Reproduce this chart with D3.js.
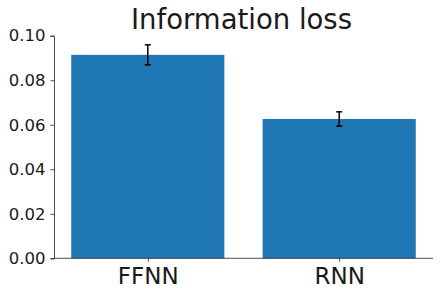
<!DOCTYPE html>
<html><head><meta charset="utf-8">
<script src="https://cdn.jsdelivr.net/npm/d3@7"></script>
<style>body{margin:0;background:#fff}svg{display:block}</style>
</head><body>
<script>
const categories = ["FFNN", "RNN"];
const values = [0.0914, 0.0626];
const errors = [0.0045, 0.0032];
const yTicks = [0, 0.02, 0.04, 0.06, 0.08, 0.10];
const title = "Information loss";

const W = 440, H = 296;
const svg = d3.select("body").append("svg").attr("width", W).attr("height", H);
const font = "DejaVu Sans, sans-serif";

const x = d3.scaleLinear().domain([-0.49, 1.49]).range([54, 433]);
const y = d3.scaleLinear().domain([0, 0.1]).range([258.3, 35.7]);
const bw = 0.8;

svg.selectAll("rect.bar").data(values).enter().append("rect")
  .attr("x", (d, i) => x(i - bw / 2))
  .attr("width", (d, i) => x(i + bw / 2) - x(i - bw / 2))
  .attr("y", d => y(d))
  .attr("height", d => y(0) - y(d))
  .attr("fill", "#1f77b4");

// error bars
const eg = svg.append("g").attr("stroke", "#000").attr("stroke-width", 1.5);
values.forEach((v, i) => {
  const cx = x(i);
  eg.append("line").attr("x1", cx).attr("x2", cx).attr("y1", y(v - errors[i])).attr("y2", y(v + errors[i]));
  eg.append("line").attr("x1", cx - 3).attr("x2", cx + 3).attr("y1", y(v - errors[i])).attr("y2", y(v - errors[i]));
  eg.append("line").attr("x1", cx - 3).attr("x2", cx + 3).attr("y1", y(v + errors[i])).attr("y2", y(v + errors[i]));
});

// y axis
const yAxis = d3.axisLeft(y).tickValues(yTicks).tickFormat(d3.format(".2f")).tickSize(3.5).tickPadding(5);
const gy = svg.append("g").attr("transform", "translate(54,0)").call(yAxis);
gy.select(".domain").attr("stroke", "#222").attr("stroke-width", 0.8);
gy.selectAll(".tick line").attr("stroke", "#222").attr("stroke-width", 0.8);
gy.selectAll(".tick text").attr("font-family", font).attr("font-size", 16.5).attr("fill", "#1a1a1a");

// x axis
const xAxis = d3.axisBottom(x).tickValues([0, 1]).tickFormat(i => categories[i]).tickSize(3.5).tickPadding(5.5);
const gx = svg.append("g").attr("transform", "translate(0,258.3)").call(xAxis);
gx.select(".domain").attr("stroke", "#222").attr("stroke-width", 0.8).attr("d", "M54,0H433");
gx.selectAll(".tick line").attr("stroke", "#222").attr("stroke-width", 0.8);
gx.selectAll(".tick text").attr("font-family", font).attr("font-size", 23).attr("fill", "#1a1a1a");

svg.append("text").attr("x", 241.5).attr("y", 28.5).attr("text-anchor", "middle")
  .attr("font-family", font).attr("font-size", 27.5).attr("fill", "#1a1a1a").text(title);
</script>
</body></html>
